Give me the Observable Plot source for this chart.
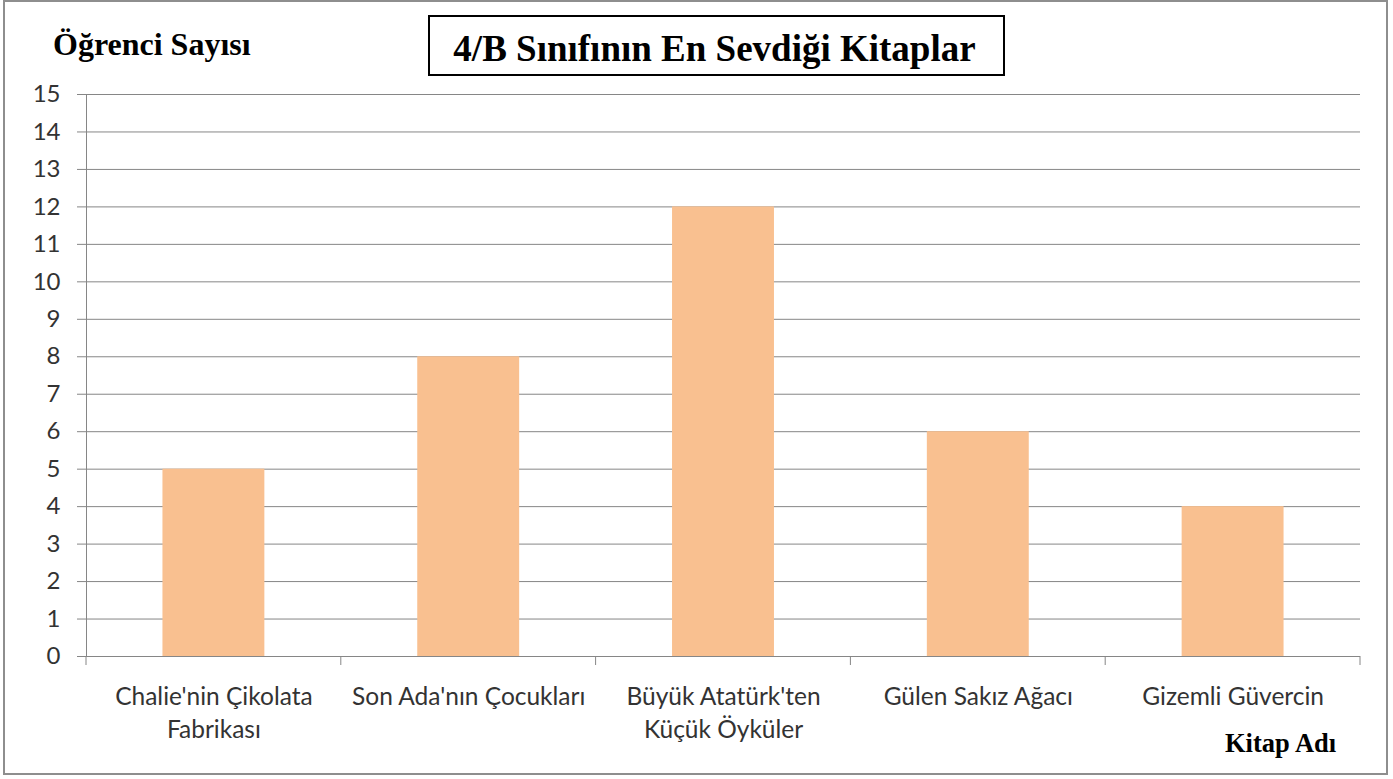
<!DOCTYPE html>
<html><head><meta charset="utf-8">
<script src="https://cdn.jsdelivr.net/npm/d3@7"></script>
<script src="https://cdn.jsdelivr.net/npm/@observablehq/plot@0.6"></script>
<style>
html,body{margin:0;padding:0;background:#fff;}
#wrap{position:relative;width:1393px;height:779px;overflow:hidden;background:#fff;}
#chart{position:absolute;left:0;top:0;}
#frame{position:absolute;left:3px;top:0;width:1381px;height:771px;border:2px solid #8e8e8e;pointer-events:none;}
#titlebox{position:absolute;left:428px;top:15px;width:577px;height:61px;box-sizing:border-box;border:2px solid #000;}
.serif{font-family:"Liberation Serif","Times New Roman",serif;font-weight:bold;color:#000;position:absolute;white-space:nowrap;}
#title{left:426px;width:577px;text-align:center;font-size:37px;line-height:37px;top:30px;}
#ylab{left:53px;top:28px;font-size:32px;line-height:32px;}
#xlab{left:1225px;top:730px;font-size:26.5px;line-height:26px;}
</style></head>
<body>
<div id="wrap">
  <div id="chart"></div>
  <div id="frame"></div>
  <div id="titlebox"></div>
  <div id="title" class="serif"></div>
  <div id="ylab" class="serif"></div>
  <div id="xlab" class="serif"></div>
</div>
<script>
const titleText = "4/B Sınıfının En Sevdiği Kitaplar";
const yLabelText = "Öğrenci Sayısı";
const xLabelText = "Kitap Adı";
const categories = ["Chalie'nin Çikolata Fabrikası", "Son Ada'nın Çocukları", "Büyük Atatürk'ten Küçük Öyküler", "Gülen Sakız Ağacı", "Gizemli Güvercin"];
const tickLabels = ["Chalie'nin Çikolata\nFabrikası", "Son Ada'nın Çocukları", "Büyük Atatürk'ten\nKüçük Öyküler", "Gülen Sakız Ağacı", "Gizemli Güvercin"];
const counts = [5, 8, 12, 6, 4];
const yTicks = [0,1,2,3,4,5,6,7,8,9,10,11,12,13,14,15];

document.getElementById("title").textContent = titleText;
document.getElementById("ylab").textContent = yLabelText;
document.getElementById("xlab").textContent = xLabelText;

const data = categories.map((c, i) => ({book: c, label: tickLabels[i], count: counts[i]}));
const GRID = "#868686";

function boundaryTicks(index, scales, values, dimensions) {
  const x = scales.x;
  const desc = scales.scales ? scales.scales.x : null;
  const step = typeof x.step === "function" ? x.step() : desc.step;
  const bw = typeof x.bandwidth === "function" ? x.bandwidth() : desc.bandwidth;
  const y0 = dimensions.height - dimensions.marginBottom;
  const pos = categories.map(c => x(c) - (step - bw) / 2);
  pos.push(x(categories[categories.length - 1]) + bw + (step - bw) / 2);
  const g = d3.create("svg:g");
  g.selectAll("line").data(pos).join("line")
    .attr("x1", d => d).attr("x2", d => d)
    .attr("y1", y0).attr("y2", y0 + 9)
    .attr("stroke", GRID);
  return g.node();
}

const chart = Plot.plot({
  width: 1393,
  height: 779,
  marginLeft: 86,
  marginRight: 33,
  marginTop: 94,
  marginBottom: 123,
  style: {background: "transparent", fontFamily: "Lato, sans-serif", overflow: "visible"},
  x: {domain: categories, paddingInner: 0.6, paddingOuter: 0.3, round: false, axis: null},
  y: {domain: [0, 15], axis: null},
  marks: [
    Plot.gridY(yTicks, {stroke: GRID, strokeOpacity: 1}),
    Plot.barY(data, {x: "book", y: "count", fill: "#F9C090"}),
    Plot.frame({anchor: "left", stroke: GRID}),
    Plot.ruleY([0], {stroke: GRID}),
    Plot.axisY({ticks: yTicks, label: null, tickSize: 9, tickPadding: 17, fontSize: 24, stroke: GRID, fill: "#333", tickFormat: d => d}),
    boundaryTicks,
    Plot.text(data, {x: "book", text: "label", frameAnchor: "bottom", lineAnchor: "top", dy: 25, fontSize: 24.5, lineHeight: 1.35, fill: "#333"})
  ]
});
document.getElementById("chart").appendChild(chart);
</script>
</body></html>
